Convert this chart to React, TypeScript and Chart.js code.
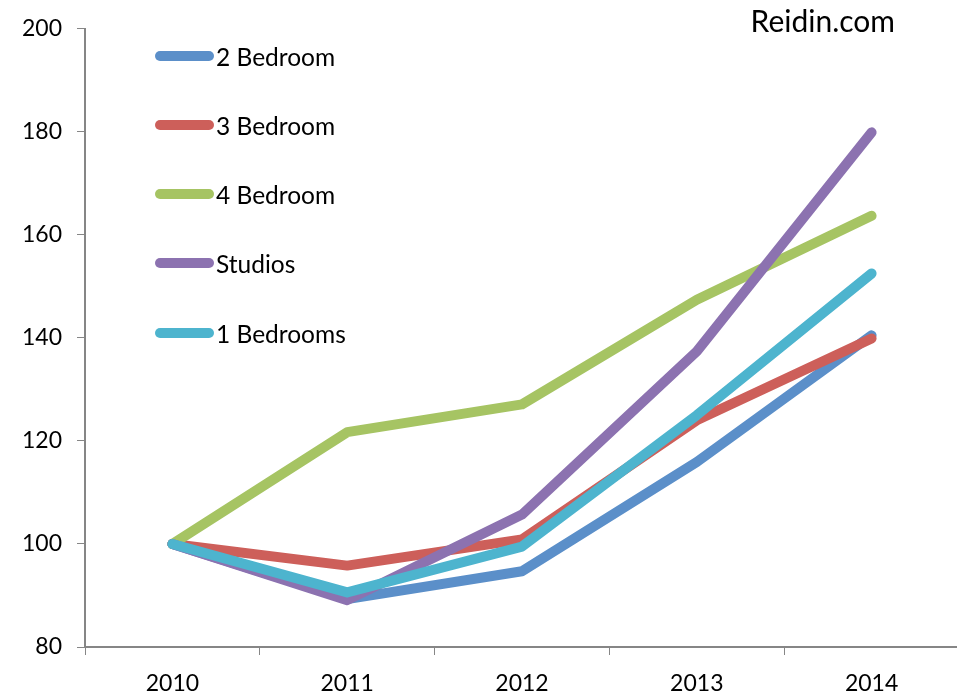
import React, { useEffect, useRef } from "react";
import { Chart, registerables } from "chart.js";

Chart.register(...registerables);

const years = ["2010", "2011", "2012", "2013", "2014"];
const twoBedroom = [100, 89.3, 94.7, 115.9, 140.5];
const threeBedroom = [100, 95.8, 100.9, 124.0, 139.9];
const fourBedroom = [100, 121.7, 127.1, 147.4, 163.7];
const studios = [100, 89.1, 105.7, 137.4, 179.9];
const oneBedrooms = [100, 90.6, 99.5, 125.0, 152.5];
const seriesNames = ["2 Bedroom", "3 Bedroom", "4 Bedroom", "Studios", "1 Bedrooms"];
const seriesColors = ["#5b8fc9", "#cd5f5a", "#a6c463", "#8c72b0", "#4db4ce"];
const sourceLabel = "Reidin.com";

const FONT = "Lato, 'Open Sans', sans-serif";

const legendPlugin = {
  id: "customLegend",
  afterDraw(chart: any) {
    const ctx = chart.ctx;
    ctx.save();
    const rowY = [56, 125, 194, 263, 333];
    chart.data.datasets.forEach((ds: any, i: number) => {
      const y = rowY[i];
      ctx.strokeStyle = ds.borderColor;
      ctx.lineWidth = 10;
      ctx.lineCap = "round";
      ctx.beginPath();
      ctx.moveTo(160, y);
      ctx.lineTo(209, y);
      ctx.stroke();
      ctx.fillStyle = "#000";
      ctx.font = `24.5px ${FONT}`;
      ctx.textBaseline = "middle";
      ctx.textAlign = "left";
      ctx.fillText(ds.label, 216, y + 2);
    });
    ctx.font = `30px ${FONT}`;
    ctx.textAlign = "right";
    ctx.textBaseline = "alphabetic";
    ctx.fillText(sourceLabel, 895, 32);
    ctx.restore();
  },
};

export default function App() {
  const ref = useRef<HTMLCanvasElement | null>(null);
  useEffect(() => {
    if (!ref.current) return;
    const data = [twoBedroom, threeBedroom, fourBedroom, studios, oneBedrooms];
    const chart = new Chart(ref.current, {
      type: "line",
      data: {
        labels: years,
        datasets: data.map((d, i) => ({
          label: seriesNames[i],
          data: d,
          borderColor: seriesColors[i],
          backgroundColor: seriesColors[i],
          borderWidth: 10,
          pointRadius: 0,
          tension: 0,
          borderCapStyle: "round",
          borderJoinStyle: "round",
          order: 4 - i,
        })),
      },
      options: {
        responsive: false,
        animation: false,
        layout: { padding: { top: 26, left: 0, right: 0, bottom: 0 } },
        plugins: { legend: { display: false }, tooltip: { enabled: false } },
        scales: {
          x: {
            type: "category",
            offset: true,
            grid: { display: true, drawOnChartArea: false, tickLength: 8, color: "#868686", offset: true },
            border: { color: "#868686", width: 2 },
            ticks: { color: "#000", font: { family: FONT, size: 23 }, padding: 15, maxRotation: 0 },
            afterFit: (s: any) => { s.height = 49; },
          },
          y: {
            min: 80,
            max: 200,
            ticks: { stepSize: 20, color: "#000", font: { family: FONT, size: 23 }, padding: 15 },
            grid: { display: true, drawOnChartArea: false, tickLength: 8, color: "#868686" },
            border: { color: "#868686", width: 2 },
            afterFit: (s: any) => { s.width = 85; },
          },
        },
      },
      plugins: [legendPlugin],
    });
    return () => chart.destroy();
  }, []);
  return (
    <div style={{ position: "fixed", left: 0, top: 0, width: 957, height: 696, overflow: "hidden", background: "#fff" }}>
      <canvas ref={ref} width={959} height={696} style={{ display: "block" }} />
    </div>
  );
}
